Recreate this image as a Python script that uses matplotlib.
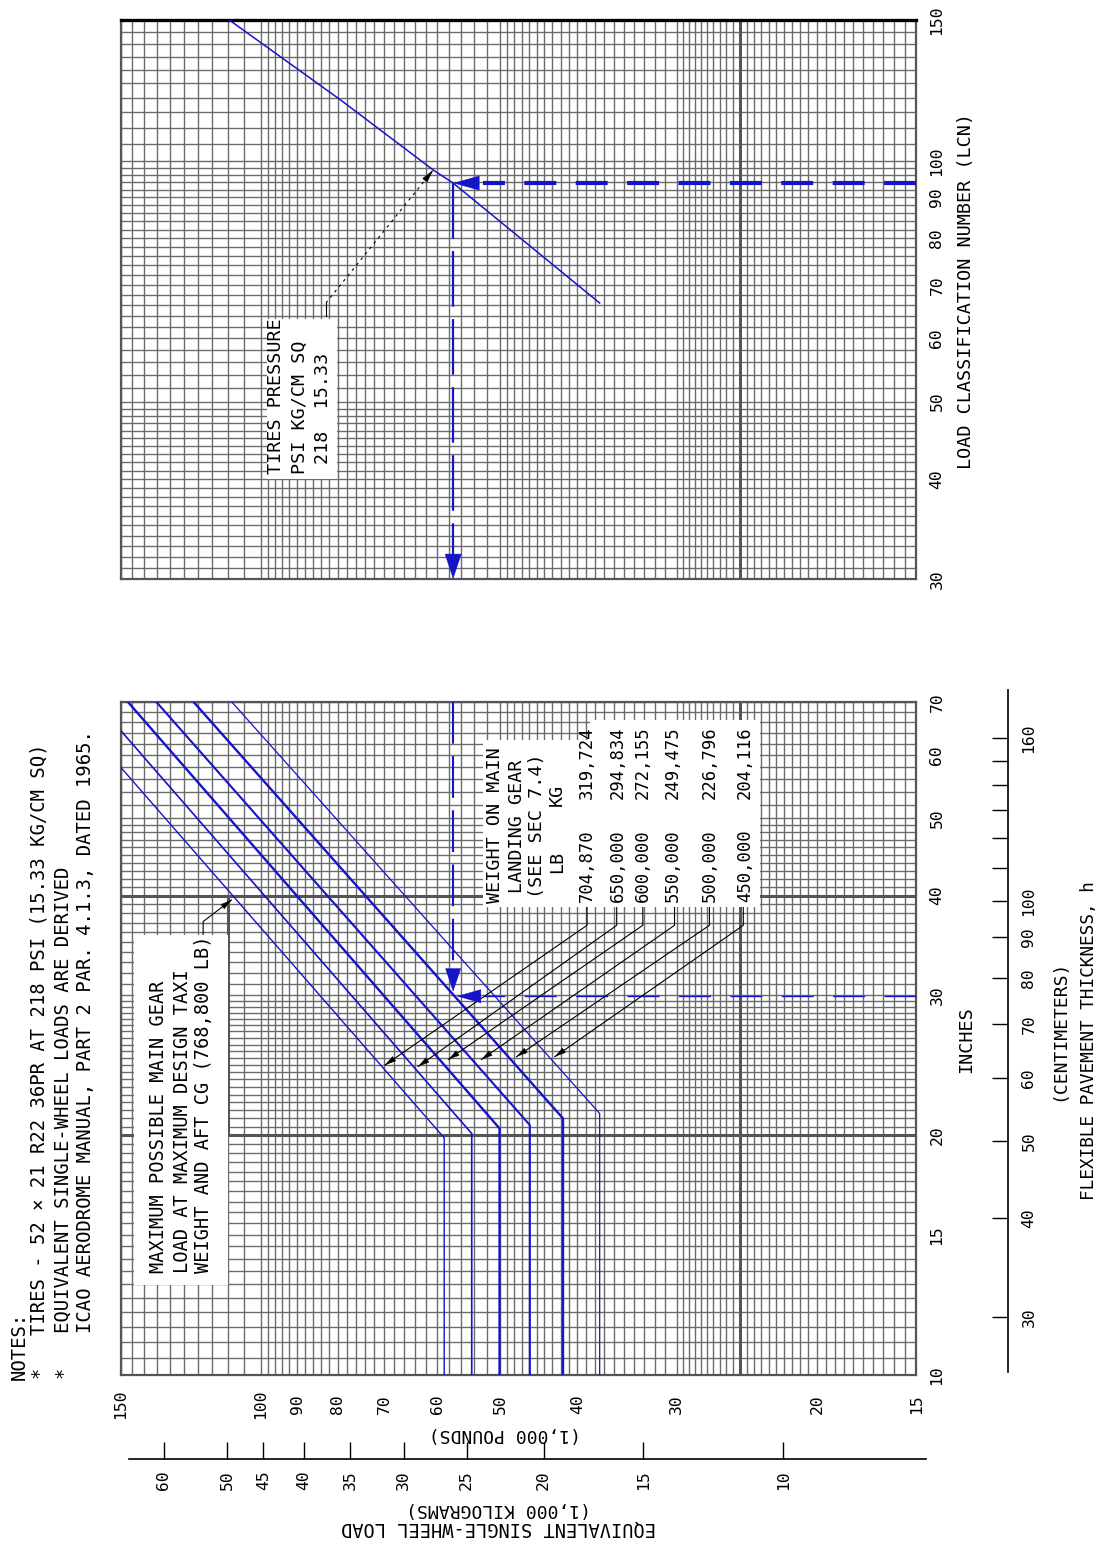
import matplotlib
matplotlib.use("Agg")
import matplotlib.pyplot as plt
import numpy as np
from matplotlib.patches import Rectangle, FancyArrowPatch
from matplotlib.lines import Line2D
from matplotlib.transforms import IdentityTransform

plt.rcParams["font.family"] = ["DejaVu Sans Mono"]
plt.rcParams["lines.scale_dashes"] = False

W, H = 1102, 1541
BLUE = "#1414c8"
GRID = "#6b6b6b"
LB_PER_KG = 2.20462

# axis values
load_ticks = [150, 100, 90, 80, 70, 60, 50, 40, 30, 20, 15]   # 1,000 lb
kg_ticks = [60, 50, 45, 40, 35, 30, 25, 20, 15, 10]           # 1,000 kg
inch_ticks = [10, 15, 20, 30, 40, 50, 60, 70]
cm_ticks = [30, 40, 50, 60, 70, 80, 90, 100, 110, 120, 130, 140, 150, 160]
cm_labels = [30, 40, 50, 60, 70, 80, 90, 100, 160]
lcn_ticks = [30, 40, 50, 60, 70, 80, 90, 100, 150]

# weight on main landing gear
gear_lb = ["704,870", "650,000", "600,000", "550,000", "500,000", "450,000"]
gear_kg = ["319,724", "294,834", "272,155", "249,475", "226,796", "204,116"]

# ESWL curves: flat load up to the knee, then straight to the frame
eswl_flat = [58.8, 54.3, 50.1, 45.9, 41.7, 37.5]
knee_h = [19.85, 20.1, 20.4, 20.6, 21.0, 21.3]
end_load = [150, 150, 146.8, 135.2, 121.4, 108.7]
end_h = [58.0, 64.5, 70, 70, 70, 70]
curve_lw = [1.0, 1.2, 1.7, 1.5, 1.7, 0.9]

# leaders from table rows to the curves
tip_load = [69.8, 63.4, 58.1, 52.8, 47.7, 42.7]
tip_h = [24.5, 24.4, 24.9, 24.9, 25.1, 25.1]
row_load = [38.9, 35.7, 33.1, 30.2, 27.3, 24.75]

# LCN curve (218 psi)
lcn_load = [109.5, 79.4, 60.7, 57.3, 37.5]
lcn_val = [150, 119.2, 97.4, 93.8, 66.4]

# worked example
ex_load, ex_h, ex_lcn = 57.3, 30.0, 93.8


# rulings of the log paper (same pattern on every scale)
def rulings(lo, hi):
    v = np.r_[np.arange(10, 30, 0.5), np.arange(30, 50, 1), np.arange(50, 100, 2), np.arange(100, 151, 5)]
    return v[(v >= lo) & (v <= hi)]


load_grid = rulings(15, 150)
inch_grid = rulings(10, 70)
lcn_grid = rulings(30, 150)


fig = plt.figure(figsize=(W / 100, H / 100), dpi=100)


def box(l, t, r, b):
    return [l / W, 1 - b / H, (r - l) / W, (b - t) / H]


def ptxt(x, y, s, rot=90, ha="center", size=13, **kw):
    fig.text(x / W, 1 - y / H, s, rotation=rot, rotation_mode="anchor",
             ha=ha, va="center", fontsize=size, zorder=6, **kw)


def white(l, t, r, b):
    fig.add_artist(Rectangle((l / W, 1 - b / H), (r - l) / W, (b - t) / H,
                             transform=fig.transFigure, facecolor="white",
                             edgecolor="none", zorder=4))


def head(a, tail, tip, length, half, color):
    p1 = a.transData.transform(tail)
    p2 = a.transData.transform(tip)
    d = (p2 - p1) / np.hypot(*(p2 - p1))
    base = p2 - d * length
    st = f"-|>,head_length={length * 0.72},head_width={half * 0.72}"
    fig.add_artist(FancyArrowPatch(base, p2, transform=IdentityTransform(),
                                   arrowstyle=st, mutation_scale=1, color=color,
                                   lw=0.4, shrinkA=0, shrinkB=0, zorder=5))


ax_lcn = fig.add_axes(box(120.5, 20, 916.4, 579))
ax = fig.add_axes(box(120.5, 702, 916.4, 1375))

for a, ylim, ygrid in ((ax_lcn, (30, 150), lcn_grid), (ax, (10, 70), inch_grid)):
    a.set_xscale("log")
    a.set_yscale("log")
    a.set_xlim(150, 15)
    a.set_ylim(*ylim)
    a.set_xticks([])
    a.set_yticks([])
    a.set_xticks([], minor=True)
    a.set_yticks([], minor=True)
    a.vlines(load_grid, 0, 1, transform=a.get_xaxis_transform(), colors=GRID, lw=1.0, zorder=1)
    a.hlines(ygrid, 0, 1, transform=a.get_yaxis_transform(), colors=GRID, lw=1.0, zorder=1)
    a.vlines([25], 0, 1, transform=a.get_xaxis_transform(), colors="#555555", lw=2.2, zorder=1)
    for s in a.spines.values():
        s.set_color("#555555")
        s.set_linewidth(1.6)
ax_lcn.spines["top"].set_color("black")
ax_lcn.spines["top"].set_linewidth(2.4)
ax.hlines([20, 40], 0, 1, transform=ax.get_yaxis_transform(), colors="#555555", lw=2.2, zorder=1)
ax.vlines([110], 20, 40, colors="#555555", lw=2.2, zorder=1)

# ---- ESWL curves
for fl, kh, el, eh, lw in zip(eswl_flat, knee_h, end_load, end_h, curve_lw):
    ax.plot([fl, fl, el], [10, kh, eh], color=BLUE, lw=lw, zorder=3)

# ---- LCN curve
ax_lcn.plot(lcn_load, lcn_val, color=BLUE, lw=1.1, zorder=3)

# ---- worked example (dashed)
ax_lcn.plot([ex_load, ex_load], [ex_lcn, 31.2], color=BLUE, lw=1.6,
            ls=(0, (40, 9)), zorder=3)
head(ax_lcn, (ex_load, 40), (ex_load, 30), 24, 8, BLUE)
ax_lcn.plot([15, 52.5], [ex_lcn, ex_lcn], color=BLUE, lw=3.0,
            ls=(0, (23, 14)), zorder=3)
head(ax_lcn, (40, ex_lcn), (ex_load, ex_lcn), 25, 7, BLUE)

ax.plot([ex_load, ex_load], [70, 32.0], color=BLUE, lw=1.5,
        ls=(0, (30, 9)), zorder=3)
head(ax, (ex_load, 40), (ex_load, 30.3), 22, 7.5, BLUE)
ax.plot([15, 52.5], [29.9, 29.9], color=BLUE, lw=1.0,
        ls=(0, (23, 14)), zorder=3)
head(ax, (40, 29.9), (56.7, 29.9), 23, 6.5, BLUE)

# ---- leaders from the weight table
for rl, tl, th in zip(row_load, tip_load, tip_h):
    ax.plot([rl, rl, tl], [38.9, 36.7, th], color="black", lw=0.8, zorder=5)
    head(ax, (rl, 36.7), (tl, th), 10, 2.6, "black")

# leader from the max-load box
ax.plot([118.1, 118.1, 108.8], [35.2, 37.1, 39.5], color="black", lw=0.8, zorder=5)
head(ax, (118.1, 37.1), (108.8, 39.5), 10, 2.6, "black")

# leader from the tire pressure box
ax_lcn.plot([82.8, 82.8], [64.0, 66.4], color="black", lw=0.8, zorder=5)
ax_lcn.plot([82.8, 60.7], [66.4, 97.4], color="black", lw=0.8, ls=(0, (2, 3)), zorder=5)
head(ax_lcn, (82.8, 66.4), (60.7, 97.4), 12, 2.8, "black")

# ---- tick labels
TK = 11.8
for v in load_ticks:
    ax.text(v, (1375 - 1404) / 673, str(v), transform=ax.get_xaxis_transform(),
            rotation=90, ha="center", va="center", fontsize=TK)
for v in inch_ticks:
    ax.text(1 + (937 - 916.4) / 795.9, v, str(v), transform=ax.get_yaxis_transform(),
            rotation=90, ha="center", va="center", fontsize=TK)
for v in lcn_ticks:
    ax_lcn.text(1 + (937 - 916.4) / 795.9, v, str(v), transform=ax_lcn.get_yaxis_transform(),
                rotation=90, ha="center", va="center", fontsize=TK)

# kilogram scale
fig.add_artist(Line2D([129 / W, 926 / W], [1 - 1459 / H] * 2, color="black", lw=1.2))
kg_lb = np.array(kg_ticks) * LB_PER_KG
ax.vlines(kg_lb, (1375 - 1459) / 673, (1375 - 1442) / 673, transform=ax.get_xaxis_transform(),
          colors="black", lw=1.0, clip_on=False)
for v, x in zip(kg_ticks, kg_lb):
    ax.text(x, (1375 - 1480) / 673, str(v), transform=ax.get_xaxis_transform(),
            rotation=90, ha="center", va="center", fontsize=TK)

# centimetre scale
fig.add_artist(Line2D([1008 / W] * 2, [1 - 690 / H, 1 - 1372 / H], color="black", lw=1.2))
cm_in = np.array(cm_ticks) / 2.54
ax.hlines(cm_in, (992 - 120.5) / 795.9, (1008 - 120.5) / 795.9, transform=ax.get_yaxis_transform(),
          colors="black", lw=1.0, clip_on=False)
for v in cm_labels:
    ax.text((1029 - 120.5) / 795.9, v / 2.54, str(v), transform=ax.get_yaxis_transform(),
            rotation=90, ha="center", va="center", fontsize=TK)

# ---- axis titles
ptxt(966, 291, "LOAD CLASSIFICATION NUMBER (LCN)", size=13.3)
ptxt(966, 1040, "INCHES", size=13.3)
ptxt(1059, 1030, "(CENTIMETERS)", size=13)
ptxt(1089, 1041, "FLEXIBLE PAVEMENT THICKNESS, h", size=12.8)
ptxt(505, 1434, "(1,000 POUNDS)", rot=180, size=13)
ptxt(499, 1509, "(1,000 KILOGRAMS)", rot=180, size=13)
ptxt(499, 1528, "EQUIVALENT SINGLE-WHEEL LOAD", rot=180, size=13.5)

# ---- notes
NS = 13.6
ptxt(19, 1380, "NOTES:", ha="left", size=NS)
ptxt(39, 1378, "*", ha="left", size=NS)
ptxt(39, 1335, "TIRES - 52 \u00d7 21 R22 36PR AT 218 PSI (15.33 KG/CM SQ)", ha="left", size=NS)
ptxt(63, 1378, "*", ha="left", size=NS)
ptxt(63, 1333, "EQUIVALENT SINGLE-WHEEL LOADS ARE DERIVED", ha="left", size=NS)
ptxt(86, 1333, "ICAO AERODROME MANUAL, PART 2 PAR. 4.1.3, DATED 1965.", ha="left", size=NS)

# ---- boxes
white(267, 319, 337, 479)
ptxt(276, 474, "TIRES PRESSURE", ha="left", size=13.2)
ptxt(300, 474, "PSI KG/CM SQ", ha="left", size=13.2)
ptxt(323, 464, "218  15.33", ha="left", size=13.2)

white(134, 935, 228, 1285)
ptxt(159, 1273, "MAXIMUM POSSIBLE MAIN GEAR", ha="left", size=13.4)
ptxt(182, 1273, "LOAD AT MAXIMUM DESIGN TAXI", ha="left", size=13.4)
ptxt(204, 1273, "WEIGHT AND AFT CG (768,800 LB)", ha="left", size=13.4)

white(483, 740, 760, 907)
white(590, 720, 760, 907)
ptxt(495, 825, "WEIGHT ON MAIN", size=13.2)
ptxt(516.7, 826, "LANDING GEAR", size=13.2)
ptxt(536.7, 826, "(SEE SEC 7.4)", size=13.2)
ptxt(556.7, 862, "LB", size=13.2)
ptxt(556.7, 795, "KG", size=13.2)
row_x = [586.7, 618, 643, 673, 710, 745]
for x, lb, kg in zip(row_x, gear_lb, gear_kg):
    ptxt(x, 866, lb, size=12.4)
    ptxt(x, 763, kg, size=12.4)

fig.savefig("out.png", dpi=100)
